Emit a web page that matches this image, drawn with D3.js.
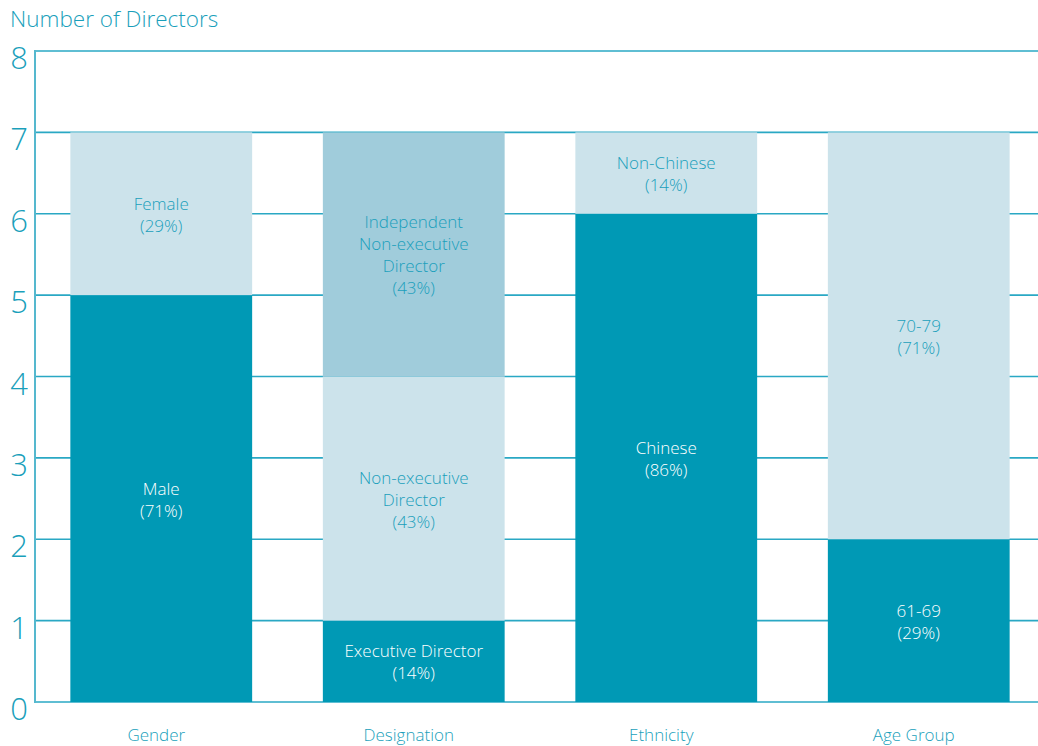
<!DOCTYPE html>
<html>
<head>
<meta charset="utf-8">
<script src="https://cdn.jsdelivr.net/npm/d3@7"></script>
<style>
  body { margin: 0; background: #fff; }
  svg { display: block; font-family: "Open Sans", sans-serif; }
</style>
</head>
<body>
<svg id="chart" width="1038" height="746"></svg>
<script>
// groups along the x axis
const categories = ["Gender", "Designation", "Ethnicity", "Age Group"];
// stacked segments, bottom to top, for each group
const segmentLabels = [
  [["Male", "(71%)"], ["Female", "(29%)"]],
  [["Executive Director", "(14%)"], ["Non-executive", "Director", "(43%)"], ["Independent", "Non-executive", "Director", "(43%)"]],
  [["Chinese", "(86%)"], ["Non-Chinese", "(14%)"]],
  [["61-69", "(29%)"], ["70-79", "(71%)"]]
];
const segmentValues = [
  [5, 2],
  [1, 3, 3],
  [6, 1],
  [2, 5]
];
// shade of each segment: 0 dark, 1 light, 2 medium
const segmentShades = [
  [0, 1],
  [0, 1, 2],
  [0, 1],
  [0, 1]
];
const yTicks = [0, 1, 2, 3, 4, 5, 6, 7, 8];
const yTitle = "Number of Directors";

const shadeFill = ["#0099b5", "#cce3eb", "#a0ccdb"];
const shadeText = ["#ffffff", "#1a9fbb", "#1a9fbb"];
const teal = "#1a9fbb";

const svg = d3.select("#chart");
const mLeft = 35, mRight = 1045, mTop = 51, mBottom = 702;

const x = d3.scaleBand().domain(categories).range([mLeft, mRight])
  .paddingInner(0.28).paddingOuter(0.14);
const y = d3.scaleLinear().domain([0, 8]).range([mBottom, mTop]);

// gridlines (behind bars)
svg.append("g").selectAll("line").data(yTicks).join("line")
  .attr("x1", mLeft).attr("x2", mRight)
  .attr("y1", d => y(d)).attr("y2", d => y(d))
  .attr("stroke", "#2aa8c4").attr("stroke-width", 1.6);

// y axis line
svg.append("line")
  .attr("x1", mLeft).attr("x2", mLeft)
  .attr("y1", y(8) - 1).attr("y2", y(0) + 1)
  .attr("stroke", "#55b8ce").attr("stroke-width", 2);

// tick labels
svg.append("g").selectAll("text").data(yTicks).join("text")
  .attr("x", 28).attr("y", d => y(d) + 18)
  .attr("text-anchor", "end")
  .attr("fill", teal)
  .attr("font-size", 31).attr("font-weight", 300)
  .text(d => d);

// title
svg.append("text")
  .attr("x", 10).attr("y", 27)
  .attr("fill", teal)
  .attr("font-size", 22.5).attr("font-weight", 300)
  .text(yTitle);

// bars
categories.forEach((cat, i) => {
  let base = 0;
  const g = svg.append("g");
  segmentValues[i].forEach((v, j) => {
    const y0 = base, y1 = base + v;
    base = y1;
    const shade = segmentShades[i][j];
    g.append("rect")
      .attr("x", x(cat)).attr("width", x.bandwidth())
      .attr("y", y(y1)).attr("height", y(y0) - y(y1))
      .attr("fill", shadeFill[shade]);

    const lines = segmentLabels[i][j];
    const lh = 22;
    const cy = (y(y0) + y(y1)) / 2;
    const t = g.append("text")
      .attr("text-anchor", "middle")
      .attr("fill", shadeText[shade])
      .attr("font-size", 17).attr("font-weight", 300);
    lines.forEach((s, k) => {
      t.append("tspan")
        .attr("x", x(cat) + x.bandwidth() / 2)
        .attr("y", cy - (lines.length - 1) * lh / 2 + k * lh + 7)
        .text(s);
    });
  });
});

// category labels
svg.append("g").selectAll("text").data(categories).join("text")
  .attr("x", d => x(d) + x.bandwidth() / 2 - 5)
  .attr("y", 741)
  .attr("text-anchor", "middle")
  .attr("fill", teal)
  .attr("font-size", 17).attr("font-weight", 300)
  .text(d => d);
</script>
</body>
</html>
